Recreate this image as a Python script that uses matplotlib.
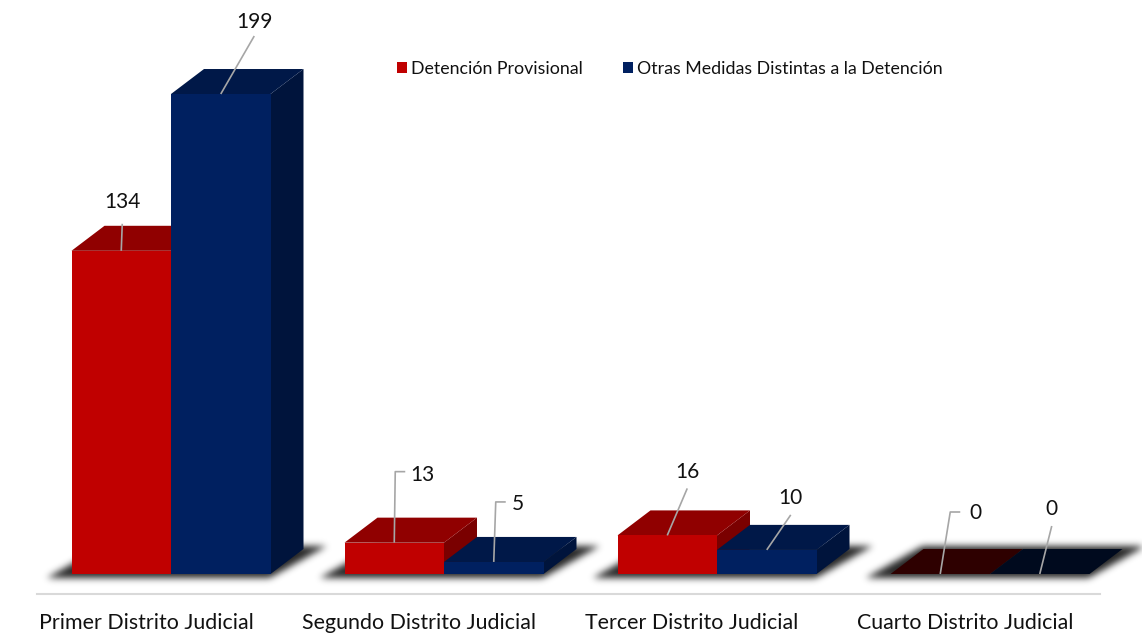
import numpy as np
import matplotlib
matplotlib.use("Agg")
import matplotlib.pyplot as plt
from matplotlib.patches import Polygon, Patch
from matplotlib.path import Path

plt.rcParams['font.family'] = ['Lato', 'DejaVu Sans']

categories = ["Primer Distrito Judicial", "Segundo Distrito Judicial",
              "Tercer Distrito Judicial", "Cuarto Distrito Judicial"]
series_names = ["Detención Provisional", "Otras Medidas Distintas a la Detención"]
detencion = [134, 13, 16, 0]
otras = [199, 5, 10, 0]

# layout (pixels)
W, H = 1142, 634
AX_L, AX_R, AX_BOTTOM = 37, 1100, 594
BASE_PX = 574
PX_PER_UNIT = 2.412
GROUP_STEP = 273.0
FIRST_CENTER = 171.0
BAR_PX = 99.5
DEPTH_X, DEPTH_Y = 33.0, 25.0
TICK_SHIFT_PX = 25.0
SHADOW_SPREAD_PX = 24.0
SHADOW_PAD_PX = 3.5
SHADOW_SIGMA_PX = 3.5
SHADOW_ALPHA = 0.85

# label leaders: offset of elbow(s) and of text from the bar's top-front centre, in px (x right, y up)
leaders_det = [[(1, 27)], [(1, 71), (11, 71)], [(20, 47)], [(10, 62), (20, 62)]]
text_det = [(1, 49), (28, 68), (20, 63), (35, 61)]
leaders_otr = [[(33.5, 58)], [(2, 60), (12, 60)], [(24, 35)], [(12, 48)]]
text_otr = [(33.5, 72), (24, 58), (24, 52), (12, 65)]

fig = plt.figure(figsize=(W / 100, H / 100), dpi=100)
ax = fig.add_axes([AX_L / W, 1 - AX_BOTTOM / H, (AX_R - AX_L) / W, AX_BOTTOM / H])
xlim = ((AX_L - FIRST_CENTER) / GROUP_STEP, (AX_R - FIRST_CENTER) / GROUP_STEP)
ylim = (-(AX_BOTTOM - BASE_PX) / PX_PER_UNIT, BASE_PX / PX_PER_UNIT)

dx = DEPTH_X / GROUP_STEP
dy = DEPTH_Y / PX_PER_UNIT
bw = BAR_PX / GROUP_STEP
ux = 1 / GROUP_STEP
uy = 1 / PX_PER_UNIT
x = np.arange(len(categories))

# soft floor shadows: a blurred raster of each group's floor, placed with data coordinates
y_top, y_bot = 510, 610
xx, yy = np.meshgrid(np.arange(W) + 0.5, np.arange(y_top, y_bot) + 0.5)
grid = np.column_stack([xx.ravel(), yy.ravel()])
mask = np.zeros(xx.shape)
for i in x:
    c = FIRST_CENTER + i * GROUP_STEP
    x0, x1 = c - BAR_PX, c + BAR_PX
    fy = BASE_PX + SHADOW_PAD_PX
    by = BASE_PX - DEPTH_Y - SHADOW_PAD_PX
    poly = Path([(x0 - SHADOW_SPREAD_PX, fy), (x1, fy),
                 (x1 + DEPTH_X + SHADOW_SPREAD_PX, by), (x0 + DEPTH_X, by)])
    mask += poly.contains_points(grid).reshape(xx.shape)
r = int(3 * SHADOW_SIGMA_PX)
kern = np.exp(-0.5 * (np.arange(-r, r + 1) / SHADOW_SIGMA_PX) ** 2)
kern /= kern.sum()
mask = np.apply_along_axis(lambda v: np.convolve(v, kern, mode='same'), 0, mask)
mask = np.apply_along_axis(lambda v: np.convolve(v, kern, mode='same'), 1, mask)
rgba = np.zeros(mask.shape + (4,))
rgba[..., 3] = np.clip(mask, 0, 1) * SHADOW_ALPHA


def px_to_x(p):
    return (p - FIRST_CENTER) / GROUP_STEP


def py_to_y(p):
    return (BASE_PX - p) / PX_PER_UNIT


ax.imshow(rgba, extent=(px_to_x(0), px_to_x(W), py_to_y(y_bot), py_to_y(y_top)),
          aspect='auto', origin='upper', zorder=1, clip_on=False, interpolation='nearest')
ax.set_xlim(*xlim)
ax.set_ylim(*ylim)

styles = [
    dict(front='#C00000', top='#900000', side='#7A0000', zero='#2E0000'),
    dict(front='#002060', top='#001848', side='#00143C', zero='#000A1E'),
]


def draw_box(xl, val, st, z):
    xr = xl + bw
    if val == 0:
        ax.add_patch(Polygon([(xl, 0), (xr, 0), (xr + dx, dy), (xl + dx, dy)],
                             facecolor=st['zero'], edgecolor='none', zorder=z, clip_on=False))
        return
    ax.add_patch(Polygon([(xr, 0), (xr + dx, dy), (xr + dx, val + dy), (xr, val)],
                         facecolor=st['side'], edgecolor='none', zorder=z))
    ax.add_patch(Polygon([(xl, val), (xr, val), (xr + dx, val + dy), (xl + dx, val + dy)],
                         facecolor=st['top'], edgecolor='none', zorder=z))
    ax.bar(xl, val, width=bw, align='edge', color=st['front'], linewidth=0, zorder=z)


for i in x:
    draw_box(i - bw, detencion[i], styles[0], 3 + i * 0.1)
    draw_box(float(i), otras[i], styles[1], 3.05 + i * 0.1)


def label(cx, val, leader, txt):
    xs = [cx] + [cx + p[0] * ux for p in leader]
    ys = [val] + [val + p[1] * uy for p in leader]
    ax.plot(xs, ys, color='#A6A6A6', lw=1.2, zorder=6, solid_capstyle='butt', clip_on=False)
    ax.text(cx + txt[0] * ux, val + txt[1] * uy, str(val), ha='center', va='center',
            fontsize=15, color='#111111', zorder=7)


for i in x:
    label(i - bw / 2, detencion[i], leaders_det[i], text_det[i])
    label(i + bw / 2, otras[i], leaders_otr[i], text_otr[i])

for s in ['top', 'left', 'right']:
    ax.spines[s].set_visible(False)
ax.spines['bottom'].set_color('#D9D9D9')
ax.spines['bottom'].set_linewidth(1.5)
ax.set_yticks([])
ax.set_xticks(x - TICK_SHIFT_PX * ux)
ax.set_xticklabels(categories, fontsize=15.4, color='#111111')
ax.tick_params(axis='x', length=0, pad=14)

handles = [Patch(facecolor=styles[0]['front']), Patch(facecolor=styles[1]['front'])]
ax.legend(handles, series_names, ncol=2, frameon=False, fontsize=12.75,
          loc='center left', bbox_to_anchor=(397 / W, 1 - 69 / H), bbox_transform=fig.transFigure,
          handlelength=0.56, handleheight=0.56, handletextpad=0.25, columnspacing=2.25,
          borderpad=0, borderaxespad=0, labelcolor='#111111')

fig.savefig('out.png', dpi=100, facecolor='white')
